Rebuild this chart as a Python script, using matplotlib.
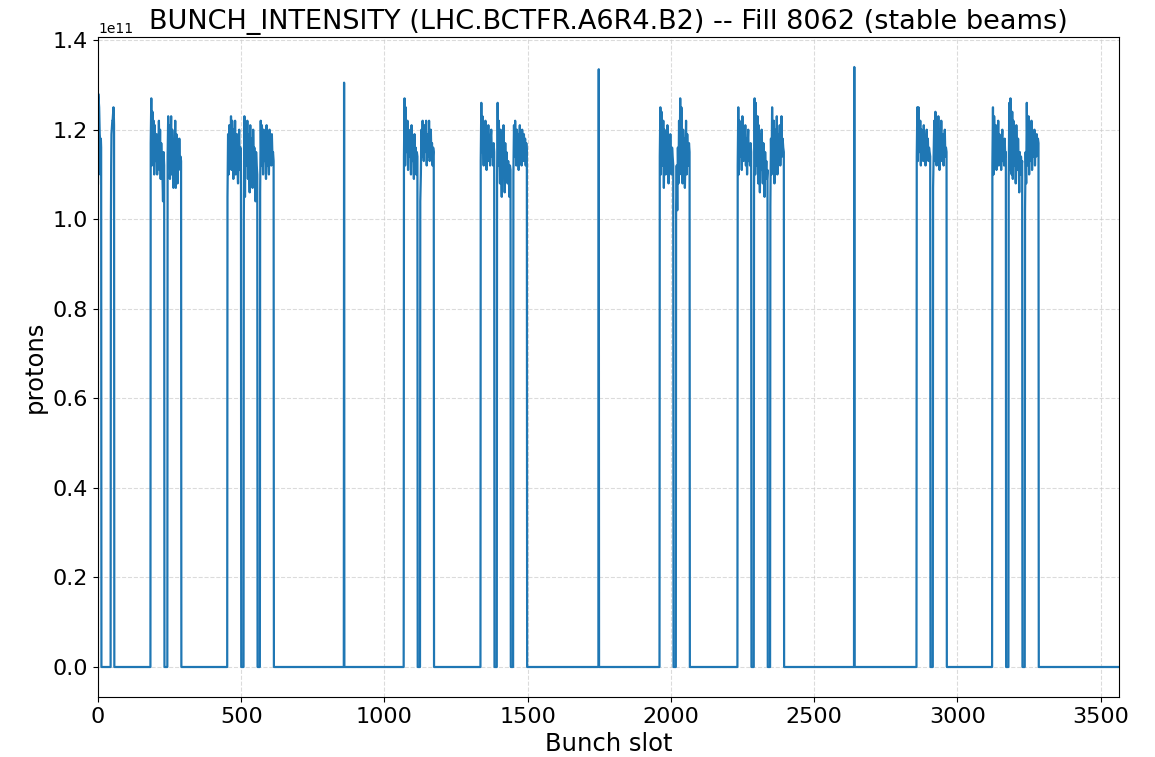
import numpy as np
import matplotlib
matplotlib.use("Agg")
import matplotlib.pyplot as plt

# ---- data (units of 1e11 protons) ----
n_slots = 3564

# batches: (first slot, last slot)
batch_slots = [
    (0, 11), (45, 56),
    (184, 231), (243, 290),
    (452, 499), (509, 556), (566, 613),
    (1068, 1115), (1125, 1172),
    (1336, 1383), (1393, 1440), (1450, 1497),
    (1961, 2008), (2018, 2065),
    (2233, 2280), (2290, 2337), (2347, 2394),
    (2858, 2905), (2915, 2962),
    (3122, 3169), (3179, 3226), (3236, 3283),
]

batch_values = [
    [1.08, 1.28, 1.27, 1.26, 1.25, 1.22, 1.19, 1.18, 1.10, 1.17, 1.18, 1.16],
    [1.00, 1.12, 1.19, 1.20, 1.21, 1.22, 1.22, 1.23, 1.24, 1.25, 1.24, 1.21],
    [1.17, 1.27, 1.12, 1.24, 1.15, 1.22, 1.10, 1.21, 1.13, 1.17, 1.19, 1.10,
     1.18, 1.13, 1.22, 1.11, 1.20, 1.09, 1.17, 1.12, 1.10, 1.04, 1.15, 1.12],
    [1.14, 1.23, 1.12, 1.21, 1.09, 1.15, 1.23, 1.10, 1.20, 1.14, 1.07, 1.17,
     1.12, 1.22, 1.07, 1.19, 1.13, 1.08, 1.16, 1.11, 1.18, 1.12, 1.14, 1.13],
    [1.05, 1.19, 1.10, 1.21, 1.14, 1.12, 1.23, 1.11, 1.22, 1.15, 1.09, 1.20,
     1.13, 1.22, 1.10, 1.17, 1.19, 1.12, 1.08, 1.17, 1.20, 1.11, 1.16, 1.13],
    [1.00, 1.23, 1.05, 1.20, 1.14, 1.12, 1.22, 1.09, 1.19, 1.13, 1.06, 1.21,
     1.10, 1.18, 1.15, 1.07, 1.20, 1.12, 1.16, 1.10, 1.04, 1.15, 1.12, 1.10],
    [1.06, 1.22, 1.12, 1.21, 1.16, 1.10, 1.20, 1.13, 1.19, 1.15, 1.09, 1.21,
     1.12, 1.18, 1.14, 1.10, 1.20, 1.13, 1.17, 1.12, 1.19, 1.14, 1.15, 1.13],
    [1.14, 1.27, 1.12, 1.25, 1.15, 1.18, 1.22, 1.11, 1.20, 1.16, 1.14, 1.18,
     1.10, 1.21, 1.13, 1.17, 1.15, 1.09, 1.19, 1.12, 1.16, 1.10, 1.15, 1.14],
    [1.04, 1.10, 1.20, 1.14, 1.22, 1.16, 1.13, 1.21, 1.15, 1.18, 1.22, 1.12,
     1.19, 1.16, 1.14, 1.22, 1.13, 1.17, 1.20, 1.14, 1.17, 1.12, 1.16, 1.15],
    [1.13, 1.26, 1.15, 1.23, 1.18, 1.12, 1.21, 1.14, 1.22, 1.16, 1.11, 1.19,
     1.15, 1.21, 1.13, 1.17, 1.12, 1.18, 1.20, 1.14, 1.16, 1.12, 1.17, 1.15],
    [1.09, 1.26, 1.12, 1.22, 1.16, 1.08, 1.20, 1.13, 1.05, 1.18, 1.10, 1.21,
     1.14, 1.06, 1.17, 1.09, 1.15, 1.12, 1.08, 1.13, 1.10, 1.05, 1.12, 1.11],
    [1.10, 1.21, 1.14, 1.22, 1.16, 1.12, 1.20, 1.15, 1.19, 1.11, 1.17, 1.21,
     1.14, 1.18, 1.12, 1.20, 1.16, 1.13, 1.19, 1.14, 1.18, 1.12, 1.17, 1.15],
    [1.14, 1.25, 1.10, 1.24, 1.16, 1.12, 1.22, 1.07, 1.20, 1.14, 1.10, 1.18,
     1.12, 1.21, 1.15, 1.08, 1.17, 1.11, 1.19, 1.13, 1.10, 1.16, 1.14, 1.12],
    [1.03, 1.12, 1.02, 1.16, 1.08, 1.22, 1.10, 1.27, 1.12, 1.25, 1.16, 1.08,
     1.20, 1.12, 1.18, 1.07, 1.15, 1.22, 1.10, 1.19, 1.14, 1.12, 1.17, 1.15],
    [1.12, 1.25, 1.10, 1.22, 1.17, 1.14, 1.20, 1.11, 1.23, 1.15, 1.13, 1.19,
     1.16, 1.21, 1.12, 1.18, 1.10, 1.17, 1.20, 1.13, 1.16, 1.12, 1.17, 1.15],
    [1.07, 1.27, 1.10, 1.26, 1.15, 1.12, 1.23, 1.08, 1.21, 1.14, 1.06, 1.19,
     1.11, 1.20, 1.15, 1.08, 1.17, 1.12, 1.05, 1.15, 1.10, 1.13, 1.09, 1.11],
    [1.03, 1.18, 1.10, 1.25, 1.14, 1.12, 1.22, 1.08, 1.20, 1.16, 1.13, 1.23,
     1.10, 1.19, 1.15, 1.14, 1.21, 1.12, 1.17, 1.23, 1.14, 1.18, 1.16, 1.15],
    [1.14, 1.25, 1.13, 1.25, 1.18, 1.15, 1.22, 1.12, 1.20, 1.16, 1.19, 1.13,
     1.21, 1.15, 1.18, 1.12, 1.17, 1.20, 1.14, 1.18, 1.13, 1.16, 1.15, 1.14],
    [1.07, 1.14, 1.22, 1.13, 1.24, 1.16, 1.12, 1.21, 1.15, 1.23, 1.17, 1.11,
     1.20, 1.14, 1.22, 1.13, 1.18, 1.19, 1.12, 1.17, 1.20, 1.14, 1.16, 1.15],
    [1.12, 1.25, 1.10, 1.23, 1.16, 1.13, 1.21, 1.11, 1.20, 1.15, 1.22, 1.12,
     1.19, 1.14, 1.18, 1.11, 1.17, 1.20, 1.13, 1.16, 1.12, 1.18, 1.14, 1.15],
    [1.09, 1.26, 1.11, 1.27, 1.15, 1.10, 1.24, 1.09, 1.22, 1.16, 1.12, 1.20,
     1.08, 1.21, 1.14, 1.11, 1.18, 1.13, 1.06, 1.15, 1.10, 1.14, 1.12, 1.13],
    [1.02, 1.15, 1.08, 1.26, 1.14, 1.12, 1.23, 1.10, 1.21, 1.16, 1.13, 1.22,
     1.11, 1.19, 1.15, 1.14, 1.20, 1.12, 1.18, 1.14, 1.19, 1.16, 1.18, 1.17],
]

single_slots = [859, 1748, 2640]
single_values = [1.305, 1.335, 1.34]

title = "BUNCH_INTENSITY (LHC.BCTFR.A6R4.B2) -- Fill 8062 (stable beams)"

# ---- build the series ----
pts = {0: 0.0, n_slots - 1: 0.0}
for (s0, s1), vals in zip(batch_slots, batch_values):
    xs = np.linspace(s0, s1, len(vals))
    if s0 > 0:
        pts[s0 - 1] = 0.0
    pts[s1 + 1] = 0.0
    for xv, yv in zip(xs, vals):
        pts[float(xv)] = yv
for s, v in zip(single_slots, single_values):
    pts[s - 1] = 0.0
    pts[s] = v
    pts[s + 1] = 0.0
keys = sorted(pts.keys())
xs_all = np.array(keys, dtype=float)
ys_all = np.array([pts[k] for k in keys]) * 1e11

# ---- plot ----
fig = plt.figure(figsize=(11.55, 7.57), dpi=100)
ax = fig.add_axes([98 / 1155, 1 - 697 / 757, (1119 - 98) / 1155, (697 - 37) / 757])
ax.plot(xs_all, ys_all, color="#1f77b4", linewidth=1.6)
ax.set_xlim(0, n_slots)
ax.grid(True, linestyle="--", color="#cccccc", linewidth=0.8, alpha=0.7)
ax.tick_params(labelsize=16)
ax.set_xlabel("Bunch slot", fontsize=17.5)
ax.set_ylabel("protons", fontsize=17.5)
ax.set_title(title, fontsize=19.5)
fig.savefig("out.png", dpi=100)
